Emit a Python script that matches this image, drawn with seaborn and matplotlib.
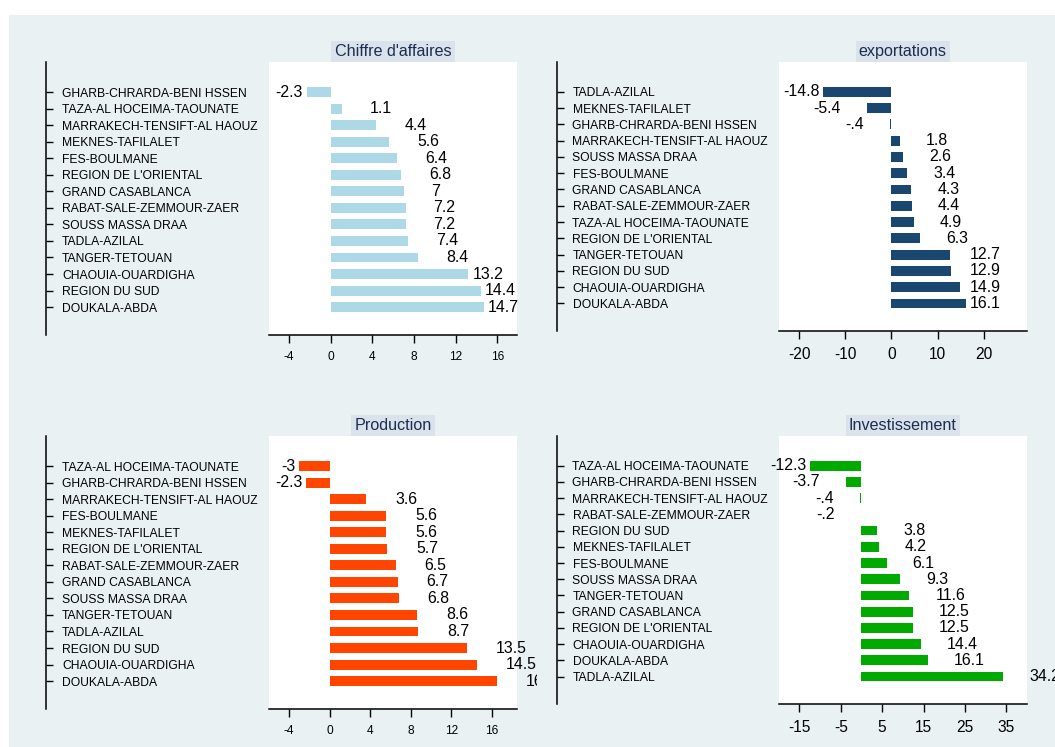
import matplotlib
matplotlib.use("Agg")
import matplotlib.pyplot as plt
from matplotlib.patches import Rectangle
from matplotlib.transforms import Bbox
import pandas as pd
import seaborn as sns

# ---------------------------------------------------------------- data
ca_regions = [
    "GHARB-CHRARDA-BENI HSSEN", "TAZA-AL HOCEIMA-TAOUNATE",
    "MARRAKECH-TENSIFT-AL HAOUZ", "MEKNES-TAFILALET", "FES-BOULMANE",
    "REGION DE L'ORIENTAL", "GRAND CASABLANCA", "RABAT-SALE-ZEMMOUR-ZAER",
    "SOUSS MASSA DRAA", "TADLA-AZILAL", "TANGER-TETOUAN",
    "CHAOUIA-OUARDIGHA", "REGION DU SUD", "DOUKALA-ABDA",
]
ca_values = [-2.3, 1.1, 4.4, 5.6, 6.4, 6.8, 7, 7.2, 7.2, 7.4, 8.4, 13.2, 14.4, 14.7]

exp_regions = [
    "TADLA-AZILAL", "MEKNES-TAFILALET", "GHARB-CHRARDA-BENI HSSEN",
    "MARRAKECH-TENSIFT-AL HAOUZ", "SOUSS MASSA DRAA", "FES-BOULMANE",
    "GRAND CASABLANCA", "RABAT-SALE-ZEMMOUR-ZAER", "TAZA-AL HOCEIMA-TAOUNATE",
    "REGION DE L'ORIENTAL", "TANGER-TETOUAN", "REGION DU SUD",
    "CHAOUIA-OUARDIGHA", "DOUKALA-ABDA",
]
exp_values = [-14.8, -5.4, -0.4, 1.8, 2.6, 3.4, 4.3, 4.4, 4.9, 6.3, 12.7, 12.9, 14.9, 16.1]

prod_regions = [
    "TAZA-AL HOCEIMA-TAOUNATE", "GHARB-CHRARDA-BENI HSSEN",
    "MARRAKECH-TENSIFT-AL HAOUZ", "FES-BOULMANE", "MEKNES-TAFILALET",
    "REGION DE L'ORIENTAL", "RABAT-SALE-ZEMMOUR-ZAER", "GRAND CASABLANCA",
    "SOUSS MASSA DRAA", "TANGER-TETOUAN", "TADLA-AZILAL", "REGION DU SUD",
    "CHAOUIA-OUARDIGHA", "DOUKALA-ABDA",
]
prod_values = [-3, -2.3, 3.6, 5.6, 5.6, 5.7, 6.5, 6.7, 6.8, 8.6, 8.7, 13.5, 14.5, 16.5]

inv_regions = [
    "TAZA-AL HOCEIMA-TAOUNATE", "GHARB-CHRARDA-BENI HSSEN",
    "MARRAKECH-TENSIFT-AL HAOUZ", "RABAT-SALE-ZEMMOUR-ZAER", "REGION DU SUD",
    "MEKNES-TAFILALET", "FES-BOULMANE", "SOUSS MASSA DRAA", "TANGER-TETOUAN",
    "GRAND CASABLANCA", "REGION DE L'ORIENTAL", "CHAOUIA-OUARDIGHA",
    "DOUKALA-ABDA", "TADLA-AZILAL",
]
inv_values = [-12.3, -3.7, -0.4, -0.2, 3.8, 4.2, 6.1, 9.3, 11.6, 12.5, 12.5, 14.4, 16.1, 34.2]

titles = ["Chiffre d'affaires", "exportations", "Production", "Investissement"]
ticks_ca = [-4, 0, 4, 8, 12, 16]
ticks_exp = [-20, -10, 0, 10, 20]
ticks_prod = [-4, 0, 4, 8, 12, 16]
ticks_inv = [-15, -5, 5, 15, 25, 35]

# ---------------------------------------------------------------- style
W, H = 1055, 747
PT = 0.72                      # points per pixel at 100 dpi
BG = "#EAF1F3"
TITLE_BG = "#DAE2EB"
TITLE_FG = "#1C2D4F"

sns.set_theme(style="white")
plt.rcParams["font.family"] = ["Liberation Sans", "DejaVu Sans"]


def fmt(v):
    s = f"{v:g}"
    if s.startswith("-0."):
        s = "-" + s[2:]
    elif s.startswith("0."):
        s = s[1:]
    return s


panels = [
    dict(regions=ca_regions, values=ca_values, title=titles[0], color="#ADD8E6",
         xlim=(-5.92, 17.9), ticks=ticks_ca, box=(269, 62, 517, 335),
         axis_x=46, label_x=62, ticksize=8.6, gap=28, fit=13, clip=None),
    dict(regions=exp_regions, values=exp_values, title=titles[1], color="#1A476F",
         xlim=(-24.4, 29.3), ticks=ticks_exp, box=(779, 62, 1026.5, 331),
         axis_x=557, label_x=572.5, ticksize=11.2, gap=26, fit=26, clip=None),
    dict(regions=prod_regions, values=prod_values, title=titles[2], color="#FF4500",
         xlim=(-5.97, 18.46), ticks=ticks_prod, box=(269, 436, 517, 709),
         axis_x=46, label_x=62, ticksize=8.6, gap=29, fit=None, clip=(9, 537)),
    dict(regions=inv_regions, values=inv_values, title=titles[3], color="#00AA00",
         xlim=(-19.9, 39.85), ticks=ticks_inv, box=(779, 436, 1026.5, 704),
         axis_x=557, label_x=572.5, ticksize=11.2, gap=26, fit=None, clip=(537, W)),
]

fig = plt.figure(figsize=(W / 100, H / 100), dpi=100)
fig.patch.set_facecolor("white")
fig.patches.append(Rectangle((9 / W, 0), 1, (H - 15) / H, transform=fig.transFigure,
                             facecolor=BG, edgecolor="none", zorder=-10))

value_labels = []
for p in panels:
    l, t, r, b = p["box"]
    ax = fig.add_axes([l / W, 1 - b / H, (r - l) / W, (b - t) / H])
    df = pd.DataFrame({"region": p["regions"], "value": p["values"]})
    sns.barplot(data=df, x="value", y="region", orient="h", color=p["color"],
                saturation=1, width=0.6, linewidth=0, errorbar=None, ax=ax)
    ax.set_xlim(*p["xlim"])
    ax.set_ylim(14.69, -1.83)
    ax.set_xticks(p["ticks"])
    ax.set_xticklabels([fmt(v) for v in p["ticks"]])
    ax.set_xlabel("")
    ax.set_ylabel("")
    ax.set_facecolor("white")
    for s in ("top", "right"):
        ax.spines[s].set_visible(False)
    ax.spines["left"].set_position(("outward", (l - p["axis_x"]) * PT))
    for s in ("left", "bottom"):
        ax.spines[s].set_color("black")
        ax.spines[s].set_linewidth(1.1)
    ax.tick_params(axis="x", bottom=True, direction="out", length=8 * PT, width=1.0,
                   color="black", pad=6, labelsize=p["ticksize"], labelcolor="black")
    ax.tick_params(axis="y", left=True, direction="in", length=7 * PT, width=1.0,
                   color="black", pad=-(p["label_x"] - p["axis_x"]) * PT,
                   labelsize=8.7, labelcolor="black")
    for tk in ax.yaxis.get_major_ticks():
        tk.label1.set_horizontalalignment("left")

    ax.annotate(p["title"], xy=(0.5, 1), xycoords="axes fraction",
                xytext=(0, 3.2), textcoords="offset pixels", ha="center", va="bottom",
                fontsize=11.6, color=TITLE_FG,
                bbox=dict(boxstyle="square,pad=0.2", fc=TITLE_BG, ec="none"))

    for i, v in enumerate(p["values"]):
        a = ax.annotate(fmt(v), xy=(v, i), xytext=(p["gap"] if v >= 0 else -p["gap"], 0),
                        textcoords="offset pixels", ha="left" if v >= 0 else "right",
                        va="center", fontsize=11.4, color="black", annotation_clip=False)
        if p["clip"] is not None:
            a.set_clip_box(Bbox.from_extents(p["clip"][0], 0, p["clip"][1], H))
            a.set_clip_on(True)
        value_labels.append((ax, p, a, v, i))

# keep value labels inside the panel: hug the bar when the usual gap would overflow
fig.canvas.draw()
renderer = fig.canvas.get_renderer()
for ax, p, a, v, i in value_labels:
    w = a.get_window_extent(renderer).width
    x_end = ax.transData.transform((v, i))[0]
    gap = p["gap"]
    if v >= 0:
        dx = gap
        if p["fit"] is not None:
            limit = ax.bbox.x1 - p["fit"]
            if x_end + gap + w > limit:
                dx = max(4, limit - w - x_end)
    else:
        dx = -gap
        if x_end - gap - w < ax.bbox.x0:
            dx = -4
    a.xyann = (dx, 0)

fig.savefig("out.png", dpi=100, facecolor=fig.get_facecolor())
